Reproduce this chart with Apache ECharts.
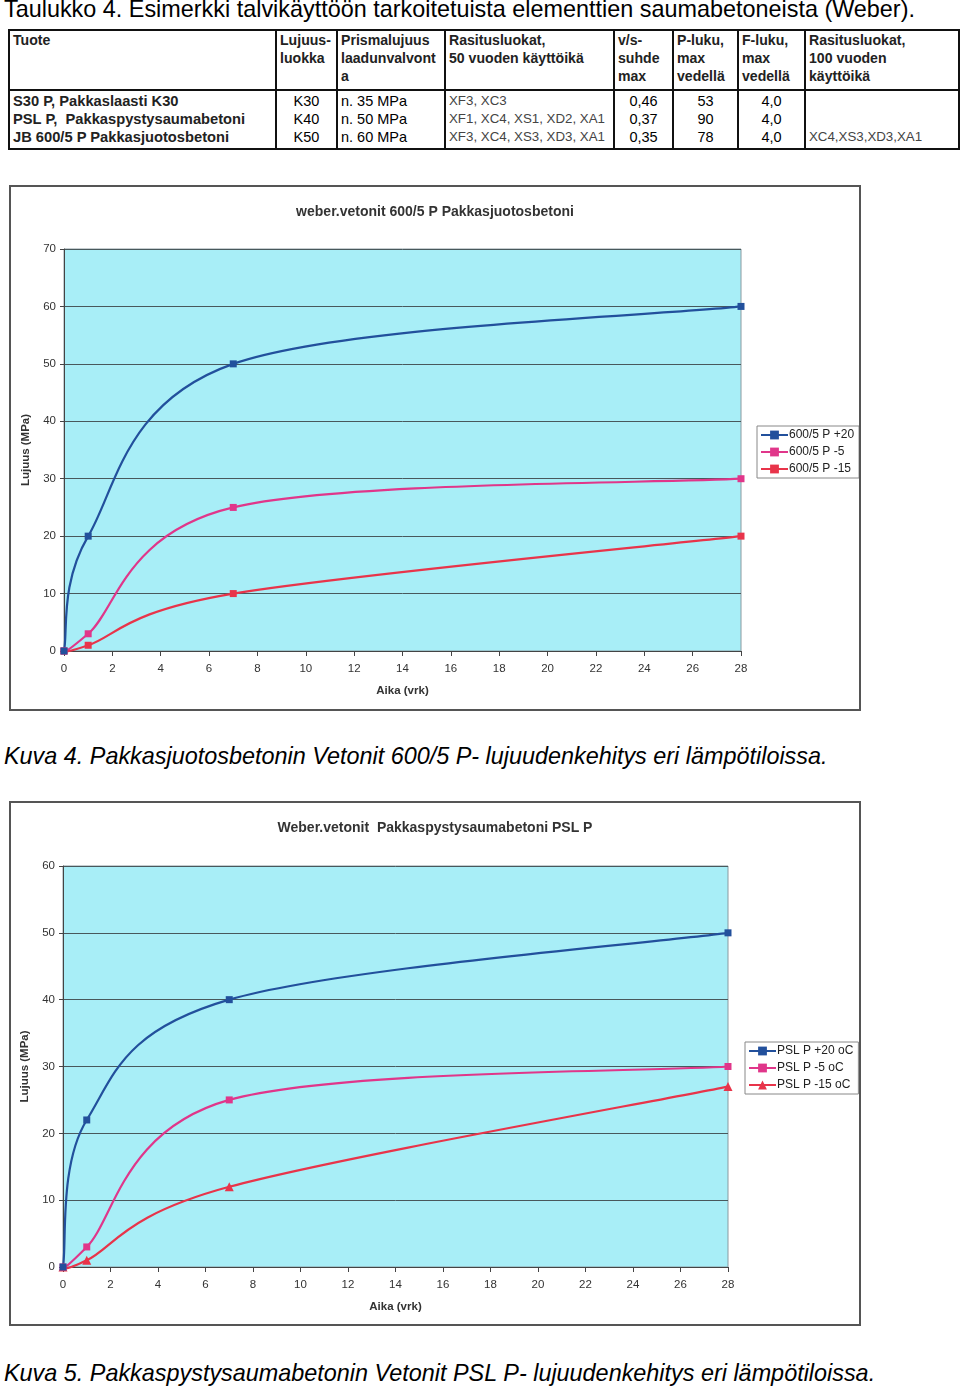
<!DOCTYPE html>
<html>
<head>
<meta charset="utf-8">
<script src="https://cdn.jsdelivr.net/npm/echarts@6/dist/echarts.min.js"></script>
<style>
  html,body{margin:0;padding:0;background:#fff;}
  body{width:960px;height:1389px;position:relative;font-family:"Liberation Sans",Arial,sans-serif;color:#000;overflow:hidden;}
  .cap{position:absolute;left:4px;white-space:nowrap;}
  #t4{top:-4px;font-size:23.4px;}
  .kuva{font-style:italic;font-size:23.4px;}
  table{position:absolute;left:8px;top:29px;border-collapse:collapse;table-layout:fixed;width:950px;font-size:14.5px;}
  td{border-left:2px solid #111;border-right:2px solid #111;padding:0 3px;vertical-align:top;line-height:18px;white-space:nowrap;overflow:hidden;}
  tr.h td{height:58px;border-top:2px solid #111;border-bottom:2px solid #111;padding-top:0;font-weight:bold;font-size:14.1px;color:#222;}
  tr.d td{height:18px;line-height:18px;}
  tr.d td.b{font-weight:bold;font-size:14.7px;color:#222;}
  tr.first td{padding-top:1px;}
  tr.last td{border-bottom:2px solid #111;padding-bottom:2px;}
  .c{text-align:center;}
  .sm{font-size:13.3px;color:#444;}
  .chartbox{position:absolute;border:2px solid #555;box-sizing:border-box;background:#fff;}
</style>
</head>
<body>
<div class="cap" id="t4">Taulukko 4. Esimerkki talvikäyttöön tarkoitetuista elementtien saumabetoneista (Weber).</div>
<table>
  <colgroup>
    <col style="width:267px"><col style="width:61px"><col style="width:108px"><col style="width:169px">
    <col style="width:59px"><col style="width:65px"><col style="width:67px"><col style="width:154px">
  </colgroup>
  <tr class="h">
    <td>Tuote</td><td>Lujuus-<br>luokka</td><td>Prismalujuus<br>laadunvalvont<br>a</td><td>Rasitusluokat,<br>50 vuoden käyttöikä</td>
    <td>v/s-<br>suhde<br>max</td><td>P-luku,<br>max<br>vedellä</td><td>F-luku,<br>max<br>vedellä</td><td>Rasitusluokat,<br>100 vuoden<br>käyttöikä</td>
  </tr>
  <tr class="d first">
    <td class="b">S30 P, Pakkaslaasti K30</td><td class="c">K30</td><td>n. 35 MPa</td><td class="sm">XF3, XC3</td>
    <td class="c">0,46</td><td class="c">53</td><td class="c">4,0</td><td class="sm"></td>
  </tr>
  <tr class="d">
    <td class="b">PSL P,&nbsp; Pakkaspystysaumabetoni</td><td class="c">K40</td><td>n. 50 MPa</td><td class="sm">XF1, XC4, XS1, XD2, XA1</td>
    <td class="c">0,37</td><td class="c">90</td><td class="c">4,0</td><td class="sm"></td>
  </tr>
  <tr class="d last">
    <td class="b">JB 600/5 P Pakkasjuotosbetoni</td><td class="c">K50</td><td>n. 60 MPa</td><td class="sm">XF3, XC4, XS3, XD3, XA1</td>
    <td class="c">0,35</td><td class="c">78</td><td class="c">4,0</td><td class="sm">XC4,XS3,XD3,XA1</td>
  </tr>
</table>

<div class="chartbox" id="c1" style="left:9px;top:185px;width:852px;height:526px;"></div>
<div class="cap kuva" style="top:743px;">Kuva 4. Pakkasjuotosbetonin Vetonit 600/5 P- lujuudenkehitys eri lämpötiloissa.</div>
<div class="chartbox" id="c2" style="left:9px;top:801px;width:852px;height:525px;"></div>
<div class="cap kuva" style="top:1360px;">Kuva 5. Pakkaspystysaumabetonin Vetonit PSL P- lujuudenkehitys eri lämpötiloissa.</div>

<script>
// ---- Data ----
const days = [0, 1, 7, 28];

const chart1Title = 'weber.vetonit 600/5 P Pakkasjuotosbetoni';
const chart1Names = ['600/5 P +20', '600/5 P -5', '600/5 P -15'];
const c1_plus20 = [0, 20, 50, 60];
const c1_minus5 = [0, 3, 25, 30];
const c1_minus15 = [0, 1, 10, 20];

const chart2Title = 'Weber.vetonit  Pakkaspystysaumabetoni PSL P';
const chart2Names = ['PSL P +20 oC', 'PSL P -5 oC', 'PSL P -15 oC'];
const c2_plus20 = [0, 22, 40, 50];
const c2_minus5 = [0, 3, 25, 30];
const c2_minus15 = [0, 1, 12, 27];

const yLabel = 'Lujuus (MPa)';
const xLabel = 'Aika (vrk)';

const colors = ['#22509c', '#e0368a', '#e8344a'];
const LW = 2.2;

function pairs(vals){ return days.map((d,i)=>[d, vals[i]]); }

// Spreadsheet-style smoothed curve: cubic Bezier segments through the data points,
// positioned by the chart's own coordinate system (api.coord).
function smoothCurveSeries(vals, color){
  return {
    type:'custom', silent:true, z:1, legendHoverLink:false,
    data:[[0,0]],
    encode:{x:0,y:1},
    renderItem:function(params, api){
      const P = days.map((d,i)=>api.coord([d, vals[i]]));
      const n = P.length;
      const children = [];
      for (let i=0;i<n-1;i++){
        const p0 = P[Math.max(i-1,0)], p1 = P[i], p2 = P[i+1], p3 = P[Math.min(i+2,n-1)];
        children.push({
          type:'bezierCurve',
          shape:{
            x1:p1[0], y1:p1[1], x2:p2[0], y2:p2[1],
            cpx1:p1[0]+(p2[0]-p0[0])/6, cpy1:p1[1]+(p2[1]-p0[1])/6,
            cpx2:p2[0]-(p3[0]-p1[0])/6, cpy2:p2[1]-(p3[1]-p1[1])/6
          },
          style:{stroke:color, lineWidth:LW, fill:null, lineCap:'round'}
        });
      }
      return {type:'group', children:children};
    }
  };
}

function makeOption(title, names, series, symbols, ymax, grid, legendPos){
  const txt = '#333';
  const lineSeries = series.map((s,i)=>({
    name:names[i], type:'line', data:pairs(s), smooth:false,
    symbol:symbols[i], symbolSize:symbols[i]==='triangle'?9:7,
    lineStyle:{color:colors[i], width:LW, opacity:0},
    itemStyle:{color:colors[i]},
    z:5-i
  }));
  const curves = series.map((s,i)=>smoothCurveSeries(s, colors[i]));
  return {
    animation:false,
    backgroundColor:'#fff',
    title:{text:title,left:'center',top:13,textStyle:{fontFamily:'Liberation Sans, Arial',fontSize:14,fontWeight:'bold',color:'#333'}},
    legend:{
      orient:'vertical', left:legendPos.left, top:legendPos.top,
      backgroundColor:'#fff',
      borderColor:'#888', borderWidth:1, padding:[3,5,3,3], itemGap:5,
      itemWidth:27, itemHeight:11,
      textStyle:{fontFamily:'Liberation Sans, Arial',fontSize:12,color:'#222',padding:[0,0,0,-4]},
      data:names.map((nm,i)=>({name:nm, lineStyle:{color:colors[i], width:2, opacity:1}}))
    },
    grid:Object.assign({show:true,backgroundColor:'#a8eef7',borderColor:'#8a9aa0',borderWidth:1,containLabel:false},grid),
    xAxis:{
      type:'value',min:0,max:28,interval:2,
      name:xLabel,nameLocation:'middle',nameGap:34,
      nameTextStyle:{fontFamily:'Liberation Sans, Arial',fontSize:11.5,fontWeight:'bold',color:txt},
      axisLine:{show:true,lineStyle:{color:'#444',width:1}},
      axisTick:{show:true,length:5,lineStyle:{color:'#444'}},
      axisLabel:{fontFamily:'Liberation Sans, Arial',fontSize:11.5,color:txt,margin:12},
      splitLine:{show:false}
    },
    yAxis:{
      type:'value',min:0,max:ymax,interval:10,
      name:yLabel,nameLocation:'middle',nameGap:28,
      nameTextStyle:{fontFamily:'Liberation Sans, Arial',fontSize:11.5,fontWeight:'bold',color:txt},
      axisLine:{show:true,lineStyle:{color:'#444',width:1}},
      axisTick:{show:true,length:4,lineStyle:{color:'#444'}},
      axisLabel:{fontFamily:'Liberation Sans, Arial',fontSize:11.5,color:txt,margin:8},
      splitLine:{show:true,lineStyle:{color:'#48585c',width:1}}
    },
    series:curves.concat(lineSeries)
  };
}

const ch1 = echarts.init(document.getElementById('c1'),null,{renderer:'canvas'});
ch1.setOption(makeOption(chart1Title, chart1Names, [c1_plus20,c1_minus5,c1_minus15],
  ['rect','rect','rect'], 70, {left:53,right:118,top:62,bottom:58}, {left:746,top:239}));

const ch2 = echarts.init(document.getElementById('c2'),null,{renderer:'canvas'});
ch2.setOption(makeOption(chart2Title, chart2Names, [c2_plus20,c2_minus5,c2_minus15],
  ['rect','rect','triangle'], 60, {left:52,right:131,top:63,bottom:57}, {left:734,top:239}));
</script>
</body>
</html>
